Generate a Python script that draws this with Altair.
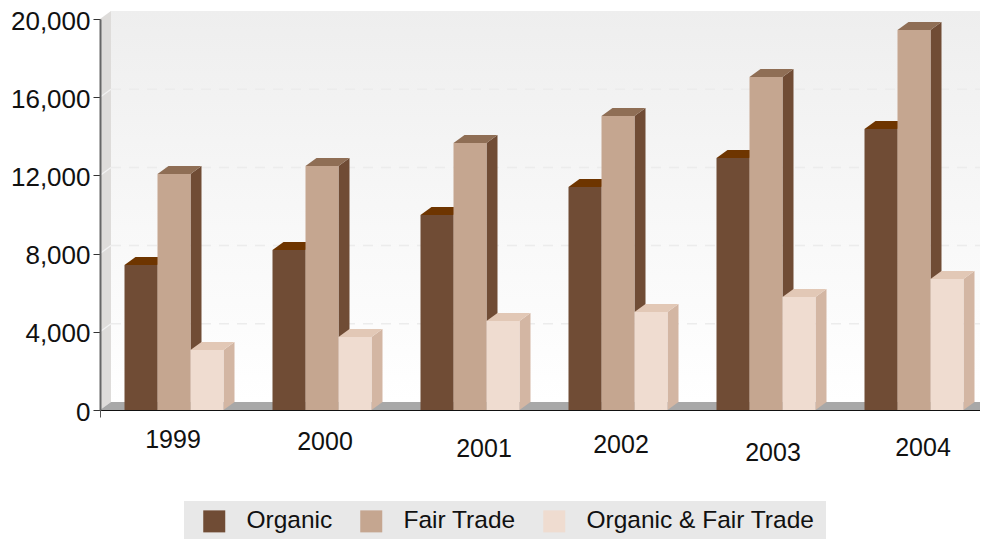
import altair as alt
import pandas as pd

years = ["1999", "2000", "2001", "2002", "2003", "2004"]
organic = [7420, 8180, 9970, 11410, 12890, 14370]
fair_trade = [12070, 12480, 13660, 15040, 17030, 19440]
both = [3070, 3730, 4550, 5010, 5780, 6700]
series_names = ["Organic", "Fair Trade", "Organic & Fair Trade"]
series_values = [organic, fair_trade, both]
front_colors = ["#704c35", "#c5a690", "#efdcd0"]
top_colors = ["#6e3500", "#8f6e55", "#e2c8b6"]
side_colors = ["#5f3f2b", "#704c35", "#d3b6a3"]
y_ticks = [0, 4000, 8000, 12000, 16000, 20000]
year_label_drop = [30, 32, 39, 35, 43, 38]
year_label_shift = [-1, 3, 14, 3, 7, 9]

PLOT_W, PLOT_H = 880, 391
GROUP_W = 148
Y_MAX = 20000
X_MAX = PLOT_W / GROUP_W
GROUPS = len(years)
ux = 1 / GROUP_W
uy = Y_MAX / PLOT_H
bar_w = 33 * ux
dx = 11 * ux
dy = 8 * uy

x_scale = alt.Scale(domain=[0, X_MAX], nice=False, zero=False)
y_scale = alt.Scale(domain=[0, Y_MAX], nice=False)
X = alt.X("x:Q", scale=x_scale, title=None,
          axis=alt.Axis(values=[0], labels=False, tickSize=7, tickColor="#555555",
                        domainColor="#111111", domainWidth=1.2, grid=False, zindex=1, title=None))
Y = alt.Y("y:Q", scale=y_scale, title=None,
          axis=alt.Axis(values=y_ticks, format=",d", labelFont="Liberation Sans", labelFontSize=26,
                        labelColor="#111111", labelPadding=3, labelOffset=2, tickSize=7, tickColor="#333333",
                        domainColor="#666666", domainWidth=2, grid=False, zindex=1, title=None))

layers = []

# legend panel
panel = pd.DataFrame([{"x": 84 * ux, "x2": 726 * ux, "y": -91 * uy, "y2": -129 * uy}])
layers.append(alt.Chart(panel).mark_rect(color="#e8e8e8").encode(x=X, x2="x2:Q", y=Y, y2="y2:Q"))

# walls and floor
back = pd.DataFrame([{"x": dx, "x2": X_MAX, "y": dy, "y2": Y_MAX + dy}])
layers.append(alt.Chart(back).mark_rect(
    color=alt.Gradient(gradient="linear", x1=0, x2=0, y1=0, y2=1,
                       stops=[alt.GradientStop(offset=0, color="#eeeeee"),
                              alt.GradientStop(offset=0.55, color="#f8f8f8"),
                              alt.GradientStop(offset=1, color="#ffffff")])
).encode(x=X, x2="x2:Q", y=Y, y2="y2:Q"))

left_wall = pd.DataFrame([{"x": 0, "y": 0, "y2": Y_MAX}, {"x": dx, "y": dy, "y2": Y_MAX + dy}])
layers.append(alt.Chart(left_wall).mark_area(color="#dedcda", opacity=1, line=False).encode(x=X, y=Y, y2="y2:Q"))

floor = pd.DataFrame([{"x": 0, "y": 0, "y2": 0}, {"x": dx, "y": 0, "y2": dy}, {"x": X_MAX, "y": 0, "y2": dy}])
layers.append(alt.Chart(floor).mark_area(color="#a8a8a8", opacity=1, line=False).encode(x=X, y=Y, y2="y2:Q"))

grid = pd.DataFrame([{"x": dx, "x2": X_MAX, "y": v + dy} for v in y_ticks[1:-1]])
layers.append(alt.Chart(grid).mark_rule(color="#ececec", strokeWidth=1.5, strokeDash=[10, 8]).encode(x=X, x2="x2:Q", y=Y))

diag = pd.DataFrame([r for v in y_ticks[1:-1] for r in ({"x": 0, "y": v, "k": v}, {"x": dx, "y": v + dy, "k": v})])
layers.append(alt.Chart(diag).mark_line(color="#f2f2f2", strokeWidth=1.2).encode(x=X, y=Y, detail="k:N"))

# bars, series by series
for s, name in enumerate(series_names):
    side_rows, top_rows, front_rows = [], [], []
    for g, v in enumerate(series_values[s]):
        x0 = g + 0.5 + (s - 1.5) * bar_w
        x1 = x0 + bar_w
        side_rows += [{"x": x1, "y": 0, "y2": v, "g": g},
                      {"x": x1 + dx, "y": dy, "y2": v + dy, "g": g}]
        top_rows += [{"x": x0, "y": v, "y2": v, "g": g},
                     {"x": x0 + dx, "y": v, "y2": v + dy, "g": g},
                     {"x": x1, "y": v, "y2": v + dy, "g": g},
                     {"x": x1 + dx, "y": v + dy, "y2": v + dy, "g": g}]
        front_rows.append({"x": x0, "x2": x1, "y": 0, "y2": v, "series": name})
    layers.append(alt.Chart(pd.DataFrame(side_rows)).mark_area(color=side_colors[s], opacity=1, line=False)
                  .encode(x=X, y=Y, y2="y2:Q", detail="g:N"))
    layers.append(alt.Chart(pd.DataFrame(top_rows)).mark_area(color=top_colors[s], opacity=1, line=False)
                  .encode(x=X, y=Y, y2="y2:Q", detail="g:N"))
    layers.append(alt.Chart(pd.DataFrame(front_rows)).mark_rect().encode(
        x=X, x2="x2:Q", y=Y, y2="y2:Q",
        color=alt.Color("series:N", scale=alt.Scale(domain=series_names, range=front_colors),
                        sort=series_names,
                        legend=alt.Legend(title=None, orient="none", legendX=102, legendY=490, direction="horizontal",
                                          columns=3, symbolType="square", symbolSize=484, symbolStrokeWidth=0,
                                          symbolOpacity=1, labelFont="Liberation Sans", labelFontSize=24.5,
                                          labelColor="#111111", labelOffset=20, labelLimit=400,
                                          columnPadding=26, padding=0))))

# year labels
labels = pd.DataFrame({"x": [g + 0.5 + sh * ux for g, sh in zip(range(GROUPS), year_label_shift)],
                       "y": [-d * uy for d in year_label_drop],
                       "t": years})
layers.append(alt.Chart(labels).mark_text(font="Liberation Sans", fontSize=25, color="#111111", align="center",
                                          baseline="middle", clip=False).encode(x=X, y=Y, text="t:N"))

chart = alt.layer(*layers).properties(
    width=PLOT_W, height=PLOT_H,
    padding={"left": 92, "top": 11, "right": 0, "bottom": 129},
    autosize=alt.AutoSizeParams(type="none"),
    background="white",
).configure_view(stroke=None)

chart.save("out.html", embed_options={"renderer": "svg", "actions": False})
